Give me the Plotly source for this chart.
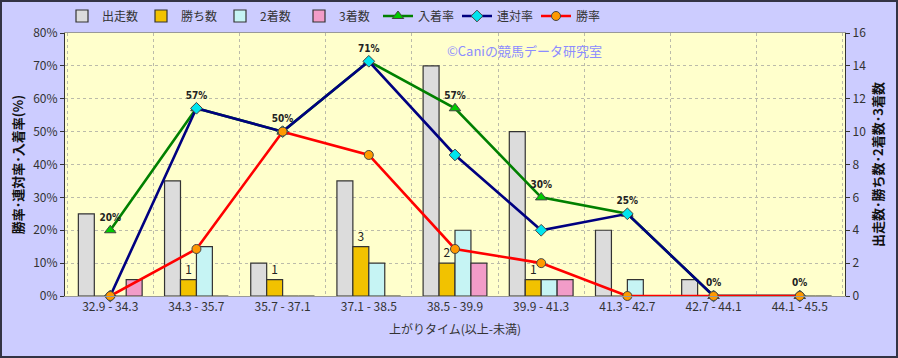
import plotly.graph_objects as go

categories = ["32.9 - 34.3", "34.3 - 35.7", "35.7 - 37.1", "37.1 - 38.5", "38.5 - 39.9",
              "39.9 - 41.3", "41.3 - 42.7", "42.7 - 44.1", "44.1 - 45.5"]
runners = [5, 7, 2, 7, 14, 10, 4, 1, 0]
wins = [0, 1, 1, 3, 2, 1, 0, 0, 0]
seconds = [0, 3, 0, 2, 4, 1, 1, 0, 0]
thirds = [1, 0, 0, 0, 2, 1, 0, 0, 0]
place_rate = [20, 57.1, 50, 71.4, 57.1, 30, 25, 0, 0]
quinella_rate = [0, 57.1, 50, 71.4, 42.9, 20, 25, 0, 0]
win_rate = [0, 14.3, 50, 42.9, 14.3, 10, 0, 0, 0]

FONT = "Noto Sans CJK JP"
fig = go.Figure()

bar_specs = [
    ("出走数", runners, "#DCDCDC"),
    ("勝ち数", wins, "#F2C200"),
    ("2着数", seconds, "#C6F4F4"),
    ("3着数", thirds, "#F29CC8"),
]
for name, vals, col in bar_specs:
    kw = {}
    if name == "勝ち数":
        kw = dict(text=[str(v) if v else "" for v in vals], textposition="outside",
                  textfont=dict(size=12, color="#222", family=FONT), cliponaxis=False)
    fig.add_trace(go.Bar(name=name, x=categories, y=vals, yaxis="y",
                         marker=dict(color=col, line=dict(color="#333", width=1.2)), **kw))

line_specs = [
    ("入着率", place_rate, "#008000", dict(symbol="triangle-up", size=10, color="#00CC00")),
    ("連対率", quinella_rate, "#000080", dict(symbol="diamond", size=9, color="#00E5EE")),
    ("勝率", win_rate, "#FF0000", dict(symbol="circle", size=9, color="#FF9900")),
]
for name, vals, col, mk in line_specs:
    mk = dict(mk, line=dict(color="#444", width=1))
    if name == "入着率":
        kw = dict(mode="lines+markers+text", texttemplate="%{y:.0f}%", textposition="top center",
                  textfont=dict(size=10, color="#222", family="DejaVu Sans Condensed, " + FONT, weight="bold"))
    else:
        kw = dict(mode="lines+markers")
    fig.add_trace(go.Scatter(name=name, x=categories, y=vals, yaxis="y2",
                             line=dict(color=col, width=2.6), marker=mk, cliponaxis=False, **kw))

W, H = 898, 358
ml, mr, mt, mb = 65, 53, 33, 62
pw, ph = W - ml - mr, H - mt - mb

fig.update_layout(
    width=W, height=H,
    margin=dict(l=ml, r=mr, t=mt, b=mb, autoexpand=False),
    paper_bgcolor="#CCCCFF", plot_bgcolor="#FFFFCC",
    font=dict(family=FONT, size=12, color="#333"),
    barmode="group", bargap=0.26, bargroupgap=0,
    showlegend=True,
    legend=dict(orientation="h", x=(62 - ml) / pw, xanchor="left", y=1 + (mt - 16) / ph, yanchor="middle",
                bgcolor="rgba(0,0,0,0)", font=dict(size=12, color="#333"), itemwidth=30,
                entrywidth=34, traceorder="normal"),
    xaxis=dict(type="category", tickson="boundaries", showgrid=True, gridcolor="#BBBBAA",
               griddash="dot", gridwidth=1, showline=True, linecolor="#999", mirror=True,
               ticks="", tickfont=dict(size=12, color="#333"),
               title=dict(text="上がりタイム(以上-未満)", font=dict(size=12, color="#333"), standoff=12)),
    yaxis=dict(side="right", range=[0, 16], dtick=2, showgrid=True, gridcolor="#BBBBAA", griddash="dot",
               showline=True, linecolor="#333", linewidth=1.2, ticks="outside", ticklen=4, tickcolor="#333",
               zeroline=False, tickfont=dict(size=12, color="#333"),
               title=dict(text="出走数･勝ち数･2着数･3着数", font=dict(size=13, color="#111", weight="bold"), standoff=8)),
    yaxis2=dict(side="left", overlaying="y", range=[0, 80], dtick=10, ticksuffix="%", showgrid=False,
                showline=True, linecolor="#333", linewidth=1.2, ticks="outside", ticklen=4, tickcolor="#333",
                zeroline=False, tickfont=dict(size=12, color="#333"),
                title=dict(text="勝率･連対率･入着率(%)", font=dict(size=13, color="#111", weight="bold"), standoff=6)),
    annotations=[dict(text="©Caniの競馬データ研究室", xref="paper", yref="paper",
                      x=(445 - ml) / pw, y=1 - (50 - mt) / ph, xanchor="left", yanchor="middle",
                      showarrow=False, font=dict(size=13, color="#8C8CFF", family=FONT))],
    shapes=[dict(type="rect", xref="paper", yref="paper",
                 x0=-(ml - 1) / pw, x1=1 + (mr - 1) / pw, y0=-(mb - 1) / ph, y1=1 + (mt - 1) / ph,
                 line=dict(color="#333344", width=2), fillcolor="rgba(0,0,0,0)", layer="above")],
)

fig.write_html("out.html", config={"displayModeBar": False},
               post_script="document.body.style.margin='0';document.body.style.padding='0';"
                           "document.body.style.overflow='hidden';")
